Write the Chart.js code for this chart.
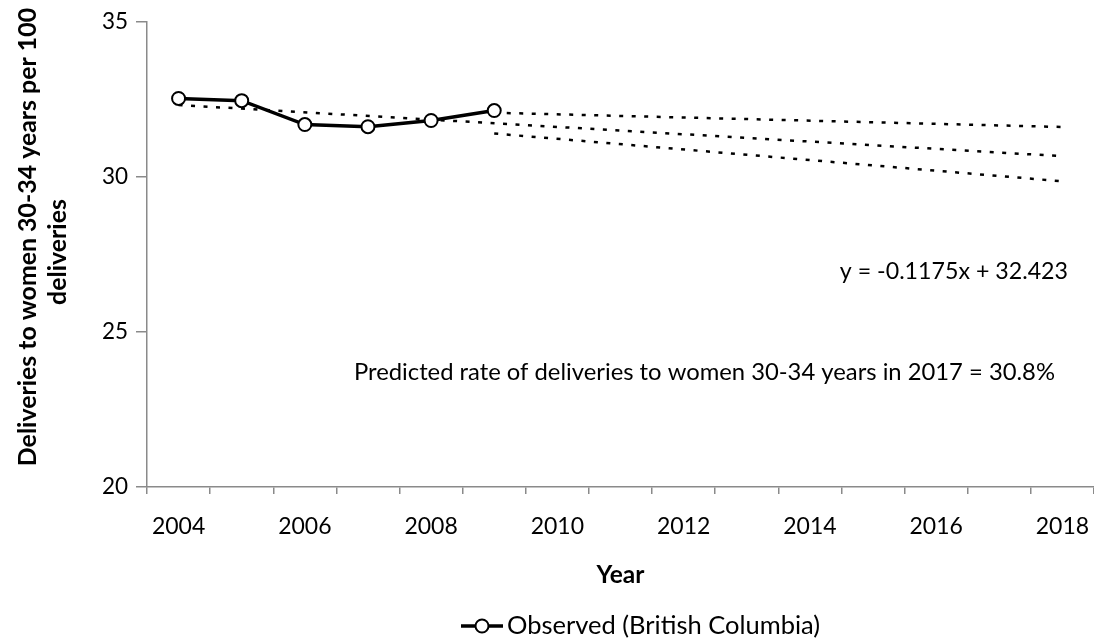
<!DOCTYPE html>
<html>
<head>
<meta charset="utf-8">
<script src="https://cdn.jsdelivr.net/npm/chart.js@4.4.1/dist/chart.umd.min.js"></script>
<style>
  html, body { margin: 0; padding: 0; background: #fff; }
</style>
</head>
<body>
<canvas id="chart" width="1094" height="640"></canvas>
<script>
// observed rates, 2004-2009
var years = [2004, 2005, 2006, 2007, 2008, 2009];
var observed = [32.52, 32.45, 31.68, 31.61, 31.81, 32.13];

// dotted projection lines (start / end)
var midYears = [2004, 2018];
var midVals = [32.31, 30.66];
var bandYears = [2009, 2018];
var upperVals = [32.06, 31.60];
var lowerVals = [31.39, 29.85];

var xLabelYears = [2004, 2006, 2008, 2010, 2012, 2014, 2016, 2018];
var yTicks = [20, 25, 30, 35];

var yTitle = ["Deliveries to women 30-34 years per 100", "deliveries"];
var eqText = "y = -0.1175x + 32.423";
var predText = "Predicted rate of deliveries to women 30-34 years in 2017 = 30.8%";
var legendText = "Observed (British Columbia)";

var FONT = "Lato, 'Open Sans', sans-serif";
var AXIS = "#8a8a8a";

function pts(xs, ys) {
  return xs.map(function (x, i) { return { x: x, y: ys[i] }; });
}

function dotted(xs, ys) {
  return {
    data: pts(xs, ys),
    borderColor: "#000",
    borderWidth: 2.5,
    borderDash: [4, 8.5],
    pointRadius: 0,
    fill: false,
    tension: 0
  };
}

// y title, texts inside the plot, legend
var extras = {
  id: "extras",
  afterDraw: function (chart) {
    var ctx = chart.ctx;
    ctx.save();
    ctx.fillStyle = "#000";
    ctx.textBaseline = "middle";

    // y axis title
    ctx.font = "bold 24.9px " + FONT;
    ctx.textAlign = "center";
    ctx.save();
    ctx.translate(28, 237);
    ctx.rotate(-Math.PI / 2);
    ctx.fillText(yTitle[0], 0, 0);
    ctx.restore();
    ctx.save();
    ctx.translate(58, 252);
    ctx.rotate(-Math.PI / 2);
    ctx.fillText(yTitle[1], 0, 0);
    ctx.restore();

    ctx.textAlign = "right";
    ctx.font = "23.2px " + FONT;
    ctx.fillText(eqText, 1068, 272);
    ctx.font = "23.8px " + FONT;
    ctx.fillText(predText, 1055, 372);

    // legend
    var ly = 626;
    ctx.strokeStyle = "#000";
    ctx.lineWidth = 3.5;
    ctx.beginPath();
    ctx.moveTo(461, ly);
    ctx.lineTo(503, ly);
    ctx.stroke();
    ctx.beginPath();
    ctx.arc(482, ly, 6.5, 0, Math.PI * 2);
    ctx.fillStyle = "#fff";
    ctx.fill();
    ctx.lineWidth = 2;
    ctx.stroke();
    ctx.fillStyle = "#000";
    ctx.textAlign = "left";
    ctx.font = "25.5px " + FONT;
    ctx.fillText(legendText, 507, ly);
    ctx.restore();
  }
};

new Chart(document.getElementById("chart"), {
  type: "line",
  data: {
    datasets: [
      {
        label: legendText,
        data: pts(years, observed),
        borderColor: "#000",
        borderWidth: 3.5,
        pointRadius: 6.5,
        pointBorderWidth: 2,
        pointBackgroundColor: "#fff",
        pointBorderColor: "#000",
        tension: 0
      },
      dotted(midYears, midVals),
      dotted(bandYears, upperVals),
      dotted(bandYears, lowerVals)
    ]
  },
  options: {
    responsive: false,
    animation: false,
    devicePixelRatio: 1,
    layout: { autoPadding: false, padding: { left: 0, right: 0, top: 18, bottom: 50 } },
    plugins: {
      legend: { display: false },
      tooltip: { enabled: false }
    },
    scales: {
      x: {
        type: "linear",
        min: 2003.5,
        max: 2018.5,
        afterBuildTicks: function (axis) {
          var t = [];
          for (var v = 2003.5; v <= 2018.5; v += 0.5) t.push({ value: v });
          axis.ticks = t;
        },
        afterFit: function (axis) {
          axis.height = 103;
          axis.paddingLeft = 0;
          axis.paddingRight = 0;
        },
        ticks: {
          autoSkip: false,
          maxRotation: 0,
          padding: 19,
          color: "#000",
          font: { family: FONT, size: 23 },
          callback: function (v) {
            return xLabelYears.indexOf(v) >= 0 ? String(v) : "";
          }
        },
        grid: {
          drawOnChartArea: false,
          tickLength: 7,
          lineWidth: 1.5,
          color: function (c) {
            return c.tick && c.tick.value % 1 !== 0 ? AXIS : "rgba(0,0,0,0)";
          }
        },
        border: { color: AXIS, width: 1.5 },
        title: {
          display: true,
          text: "Year",
          color: "#000",
          font: { family: FONT, size: 24.5, weight: "bold" },
          padding: { top: 0, bottom: 0 }
        }
      },
      y: {
        min: 20,
        max: 35,
        afterBuildTicks: function (axis) {
          axis.ticks = yTicks.map(function (v) { return { value: v }; });
        },
        afterFit: function (axis) { axis.width = 147; },
        ticks: {
          padding: 8,
          color: "#000",
          font: { family: FONT, size: 22.5 }
        },
        grid: {
          drawOnChartArea: false,
          tickLength: 11,
          lineWidth: 1.5,
          color: AXIS
        },
        border: { color: AXIS, width: 1.5 }
      }
    }
  },
  plugins: [extras]
});
</script>
</body>
</html>
